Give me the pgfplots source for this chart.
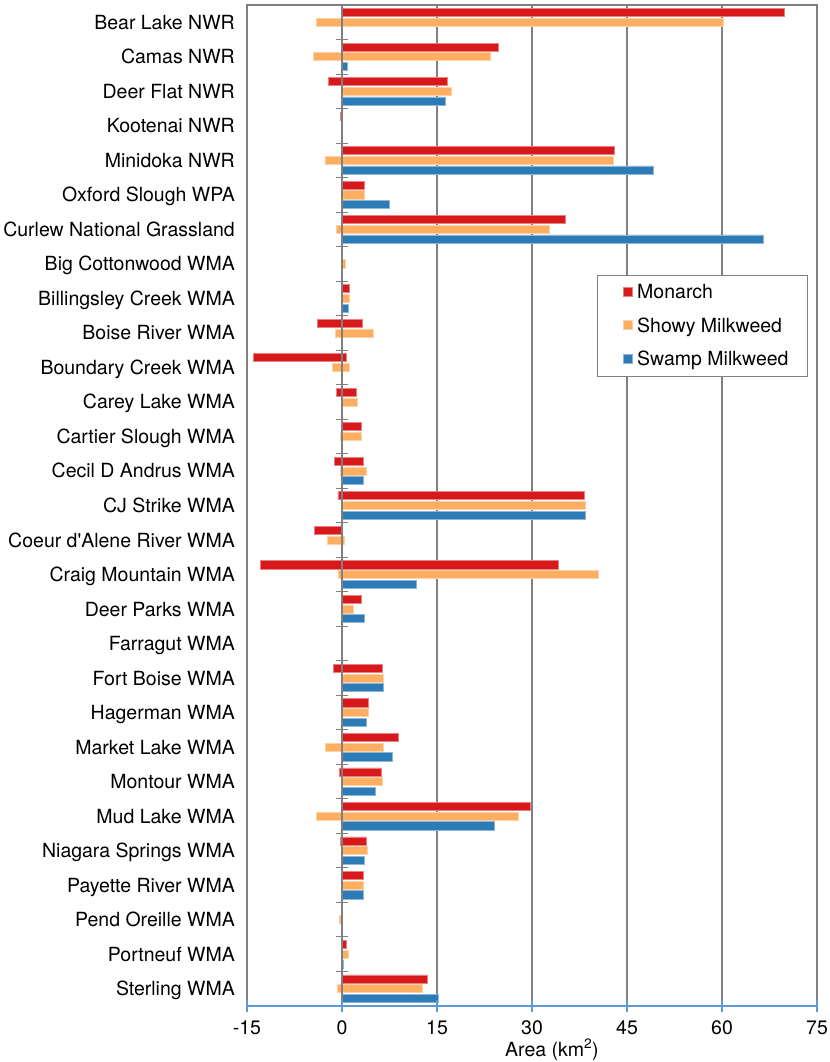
\documentclass[border=0pt]{standalone}
\usepackage{fontspec}
\setmainfont{TeX Gyre Heros}
\usepackage{pgfplots}
\pgfplotsset{compat=1.18}
\definecolor{mred}{RGB}{215,25,28}
\definecolor{morange}{RGB}{253,174,97}
\definecolor{mblue}{RGB}{44,123,182}
\definecolor{gline}{RGB}{128,128,128}
\definecolor{axblue}{RGB}{91,155,213}
\newcommand{\chartfont}{\fontsize{19.5pt}{23pt}\selectfont}
\begin{document}
\begin{tikzpicture}
\begin{axis}[
  name=ax, scale only axis, width=570pt, height=1001pt,
  xmin=-15, xmax=75, ymin=-0.5, ymax=28.5,
  xtick={-15,0,15,30,45,60,75}, xticklabels={-15,0,15,30,45,60,75},
  ytick={0,...,28},
  yticklabels={Sterling WMA, Portneuf WMA, Pend Oreille WMA, Payette River WMA, Niagara Springs WMA, Mud Lake WMA, Montour WMA, Market Lake WMA, Hagerman WMA, Fort Boise WMA, Farragut WMA, Deer Parks WMA, Craig Mountain WMA, Coeur d\textquotesingle Alene River WMA, CJ Strike WMA, Cecil D Andrus WMA, Cartier Slough WMA, Carey Lake WMA, Boundary Creek WMA, Boise River WMA, Billingsley Creek WMA, Big Cottonwood WMA, Curlew National Grassland, Oxford Slough WPA, Minidoka NWR, Kootenai NWR, Deer Flat NWR, Camas NWR, Bear Lake NWR},
  major tick length=0pt, tick style={draw=none},
  xmajorgrids, grid style={gline, line width=1.3pt},
  axis line style={gline, line width=1.3pt},
  xticklabel style={font=\chartfont, anchor=base, inner sep=0pt, yshift=-28pt},
  yticklabel style={font=\chartfont, anchor=base east, inner sep=0pt, xshift=-12pt, yshift=-7pt},
  xlabel={Area (km\textsuperscript{2})},
  xlabel style={font=\chartfont, at={(axis description cs:0.535,0)}, anchor=base, inner sep=0pt, yshift=-50pt},
  xbar, bar width=8.1pt,
  legend style={at={(0.614,0.7303)}, anchor=north west, draw=gline, line width=1.2pt, font=\chartfont,
    inner xsep=19pt, inner ysep=9pt, row sep=17.5pt, column sep=5pt,
    nodes={inner sep=0pt, text height=14pt, text depth=2pt}},
  legend cell align=left,
  legend image code/.code={\path (0pt,0pt); \draw[#1, line width=0.6pt] (6pt,-3.65pt) rectangle (15pt,5.35pt);},
]
% Monarch losses
\addplot[bar shift=9.7pt, fill=mred, draw=mred!55!white, line width=0.7pt, forget plot] coordinates {
(-2.2,26) (-0.25,25) (-3.9,19) (-14.0,18) (-0.85,17) (-1.2,15) (-0.65,14) (-4.35,13) (-12.9,12) (-1.3,9) (-0.35,6) (-0.3,4)};
% Monarch gains
\addplot[bar shift=9.7pt, fill=mred, draw=mred!55!white, line width=0.7pt] coordinates {
(69.8,28) (24.7,27) (16.7,26) (43.0,24) (3.6,23) (35.2,22) (1.1,20) (3.2,19) (0.66,18) (2.2,17) (3.1,16) (3.3,15) (38.3,14) (34.1,12) (3.0,11) (6.4,9) (4.2,8) (8.9,7) (6.2,6) (29.7,5) (3.9,4) (3.4,3) (0.7,1) (13.5,0)};
\addlegendentry{Monarch}
% Showy losses
\addplot[bar shift=0pt, fill=morange, draw=morange!55!white, line width=0.7pt, forget plot] coordinates {
(-4.1,28) (-4.5,27) (-0.1,25) (-2.7,24) (-0.9,22) (-1.1,19) (-1.5,18) (-0.3,16) (-0.3,15) (-2.3,13) (-0.65,12) (-2.6,7) (-4.1,5) (-0.35,2) (-0.8,0)};
% Showy gains
\addplot[bar shift=0pt, fill=morange, draw=morange!55!white, line width=0.7pt] coordinates {
(60.2,28) (23.4,27) (17.3,26) (42.9,24) (3.5,23) (32.7,22) (0.55,21) (1.1,20) (5.0,19) (1.2,18) (2.5,17) (3.1,16) (3.9,15) (38.4,14) (0.35,13) (40.5,12) (1.8,11) (6.5,9) (4.2,8) (6.6,7) (6.3,6) (27.9,5) (4.05,4) (3.4,3) (1.0,1) (12.7,0)};
\addlegendentry{Showy Milkweed}
% Swamp gains
\addplot[bar shift=-9.7pt, fill=mblue, draw=mblue!55!white, line width=0.7pt] coordinates {
(0.85,27) (16.3,26) (49.2,24) (7.4,23) (66.5,22) (1.0,20) (3.4,15) (38.4,14) (11.7,12) (3.6,11) (6.5,9) (3.9,8) (7.9,7) (5.3,6) (24.0,5) (3.6,4) (3.4,3) (0.25,1) (15.2,0)};
\addlegendentry{Swamp Milkweed}
\end{axis}
% zero line with category ticks
\begin{axis}[
  scale only axis, width=570pt, height=1001pt,
  xmin=-15, xmax=75, ymin=-0.5, ymax=28.5,
  axis x line=none, axis y line*=middle,
  ytick={-0.5,0.5,...,28.5}, yticklabels={},
  tick align=center, major tick length=12pt,
  tick style={gline, line width=1pt},
  y axis line style={gline, line width=1.3pt},
]
\end{axis}
% bottom blue axis
\begin{axis}[
  scale only axis, width=570pt, height=1001pt,
  xmin=-15, xmax=75, ymin=-0.5, ymax=28.5,
  axis y line=none, axis x line*=bottom,
  xtick={-15,0,15,30,45,60,75}, xticklabels={},
  tick align=center, major tick length=12pt,
  tick style={axblue, line width=1.3pt},
  x axis line style={axblue, line width=1.3pt},
]
\end{axis}
\pgfresetboundingbox
\path[use as bounding box] ([xshift=-247pt,yshift=-56pt]ax.south west) rectangle ([xshift=12pt,yshift=5pt]ax.north east);
\end{tikzpicture}
\end{document}
